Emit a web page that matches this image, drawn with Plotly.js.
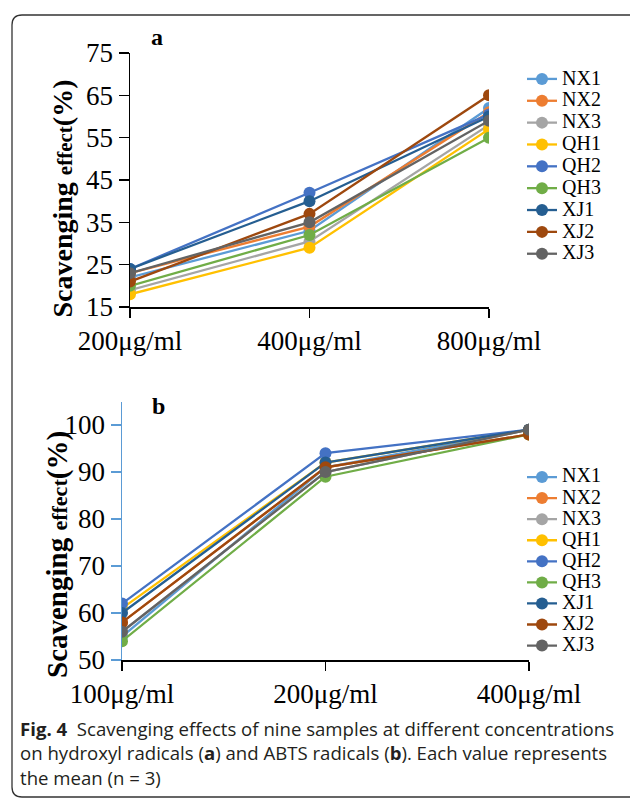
<!DOCTYPE html>
<html>
<head>
<meta charset="utf-8">
<script src="https://cdn.plot.ly/plotly-3.0.1.min.js"></script>
<style>html,body{margin:0;padding:0;background:#fff;}#chart{width:630px;height:802px;}</style>
</head>
<body>
<div id="chart"></div>
<script>
// ---- data ----
const samples = ['NX1','NX2','NX3','QH1','QH2','QH3','XJ1','XJ2','XJ3'];
const colors = ['#5B9BD5','#ED7D31','#A5A5A5','#FFC000','#4472C4','#70AD47','#255E91','#9E480E','#636363'];

// panel a: hydroxyl radicals
const catsA = ['200μg/ml','400μg/ml','800μg/ml'];
const aNX1 = [22, 33, 62];
const aNX2 = [23, 34, 61];
const aNX3 = [19, 30.5, 58];
const aQH1 = [18, 29, 57];
const aQH2 = [24, 42, 60.5];
const aQH3 = [20, 32, 55];
const aXJ1 = [24, 40, 60];
const aXJ2 = [21, 37, 65];
const aXJ3 = [23, 35, 59];
const valsA = [aNX1,aNX2,aNX3,aQH1,aQH2,aQH3,aXJ1,aXJ2,aXJ3];
const ticksA = [15,25,35,45,55,65,75];

// panel b: ABTS radicals
const catsB = ['100μg/ml','200μg/ml','400μg/ml'];
const bNX1 = [55, 91, 99];
const bNX2 = [58, 91, 98];
const bNX3 = [56, 90, 99];
const bQH1 = [61, 92, 99];
const bQH2 = [62, 94, 99];
const bQH3 = [54, 89, 98];
const bXJ1 = [60, 92, 99];
const bXJ2 = [58, 91, 98];
const bXJ3 = [56, 90, 99];
const valsB = [bNX1,bNX2,bNX3,bQH1,bQH2,bQH3,bXJ1,bXJ2,bXJ3];
const ticksB = [50,60,70,80,90,100];

const captionLines = [
  '<b>Fig. 4</b>  Scavenging effects of nine samples at different concentrations',
  'on hydroxyl radicals (<b>a</b>) and ABTS radicals (<b>b</b>). Each value represents',
  'the mean (n = 3)'
];

// ---- layout helpers (pixel -> paper) ----
const W = 630, H = 802;
const px = x => x / W;
const py = y => 1 - y / H;
const serif = 'Liberation Serif, Times New Roman, serif';

const traces = [];
samples.forEach((s, i) => {
  traces.push({
    x: catsA, y: valsA[i], type: 'scatter', mode: 'lines+markers',
    name: '<span style="font-size:20px">' + s + '</span>',
    line: {color: colors[i], width: 2.3}, marker: {color: colors[i], size: 12},
    xaxis: 'x', yaxis: 'y', legend: 'legend'
  });
});
samples.forEach((s, i) => {
  traces.push({
    x: catsB, y: valsB[i], type: 'scatter', mode: 'lines+markers',
    name: '<span style="font-size:20px">' + s + '</span>',
    line: {color: colors[i], width: 2.3}, marker: {color: colors[i], size: 12},
    xaxis: 'x2', yaxis: 'y2', legend: 'legend2'
  });
});

const tickFont = {family: serif, size: 27, color: '#000'};
const yTitleA = '<b>Scavenging <span style="font-size:21px">effect</span>(%)</b>';
const yTitleB = '<b>Scavenging <span style="font-size:22px">effect</span>(%)</b>';

// frame (rounded rectangle)
const fx0 = px(12), fx1 = px(640), fyt = py(15), fyb = py(797);
const rx = px(10), ry = 10 / H;
const framePath = `M ${fx0+rx},${fyt} L ${fx1},${fyt} L ${fx1},${fyb} L ${fx0+rx},${fyb} Q ${fx0},${fyb} ${fx0},${fyb+ry} L ${fx0},${fyt-ry} Q ${fx0},${fyt} ${fx0+rx},${fyt} Z`;

const annotations = [
  {text: '<b>a</b>', xref: 'paper', yref: 'paper', x: px(157), y: py(37), xanchor: 'center', yanchor: 'middle',
   showarrow: false, font: {family: serif, size: 24, color: '#000'}},
  {text: '<b>b</b>', xref: 'paper', yref: 'paper', x: px(158), y: py(406), xanchor: 'center', yanchor: 'middle',
   showarrow: false, font: {family: serif, size: 24, color: '#000'}},
  {text: yTitleA, xref: 'paper', yref: 'paper', x: px(62), y: py(198.5), textangle: -90,
   xanchor: 'center', yanchor: 'middle',
   showarrow: false, font: {family: serif, size: 28, color: '#000'}},
  {text: yTitleB, xref: 'paper', yref: 'paper', x: px(57), y: py(555), textangle: -90,
   xanchor: 'center', yanchor: 'middle',
   showarrow: false, font: {family: serif, size: 29, color: '#000'}}
];
const capY = [728, 752.5, 777];
captionLines.forEach((t, i) => {
  annotations.push({text: t, xref: 'paper', yref: 'paper', x: px(18), y: py(capY[i]),
    xanchor: 'left', yanchor: 'middle', align: 'left', showarrow: false,
    font: {family: 'Open Sans, Noto Sans, sans-serif', size: 18.6, color: '#231f20'}});
});

const layout = {
  width: W, height: H,
  margin: {l: 0, r: 0, t: 0, b: 0},
  paper_bgcolor: '#fff', plot_bgcolor: 'rgba(0,0,0,0)',
  font: {family: serif, color: '#000'},
  xaxis: {
    domain: [px(130), px(489)], anchor: 'y', type: 'category', range: [0, 2],
    showline: true, linecolor: '#000', linewidth: 1.5, showgrid: false, zeroline: false,
    ticks: 'outside', ticklen: 9, tickcolor: '#000', tickwidth: 1.5,
    tickfont: tickFont
  },
  yaxis: {
    domain: [py(307), py(53)], anchor: 'x', range: [15, 75],
    tickvals: ticksA,
    showline: true, linecolor: '#000', linewidth: 1.5, showgrid: false, zeroline: false,
    ticks: 'outside', ticklen: 10, tickcolor: '#000', tickwidth: 1.5,
    tickfont: tickFont
  },
  xaxis2: {
    domain: [px(122), px(529)], anchor: 'y2', type: 'category', range: [0, 2],
    showline: true, linecolor: '#000', linewidth: 1.5, showgrid: false, zeroline: false,
    ticks: 'outside', ticklen: 9, tickcolor: '#000', tickwidth: 1.5,
    tickfont: tickFont
  },
  yaxis2: {
    domain: [py(660), py(401.5)], anchor: 'x2', range: [50, 105],
    tickvals: ticksB,
    showline: true, linecolor: '#5B9BD5', linewidth: 1.5, showgrid: false, zeroline: false,
    ticks: 'outside', ticklen: 10, tickcolor: '#5B9BD5', tickwidth: 1.5,
    tickfont: tickFont
  },
  legend: {
    x: px(522), xanchor: 'left', y: py(63), yanchor: 'top',
    bgcolor: 'rgba(0,0,0,0)', borderwidth: 0,
    font: {family: serif, size: 14.5, color: '#000'}
  },
  legend2: {
    x: px(522), xanchor: 'left', y: py(461.5), yanchor: 'top',
    bgcolor: 'rgba(0,0,0,0)', borderwidth: 0,
    font: {family: serif, size: 13.9, color: '#000'}
  },
  shapes: [
    {type: 'path', xref: 'paper', yref: 'paper', path: framePath,
     line: {color: '#333', width: 1.3}, fillcolor: 'rgba(0,0,0,0)', layer: 'below'}
  ],
  annotations: annotations
};

Plotly.newPlot('chart', traces, layout, {displayModeBar: false, staticPlot: true});
</script>
</body>
</html>
